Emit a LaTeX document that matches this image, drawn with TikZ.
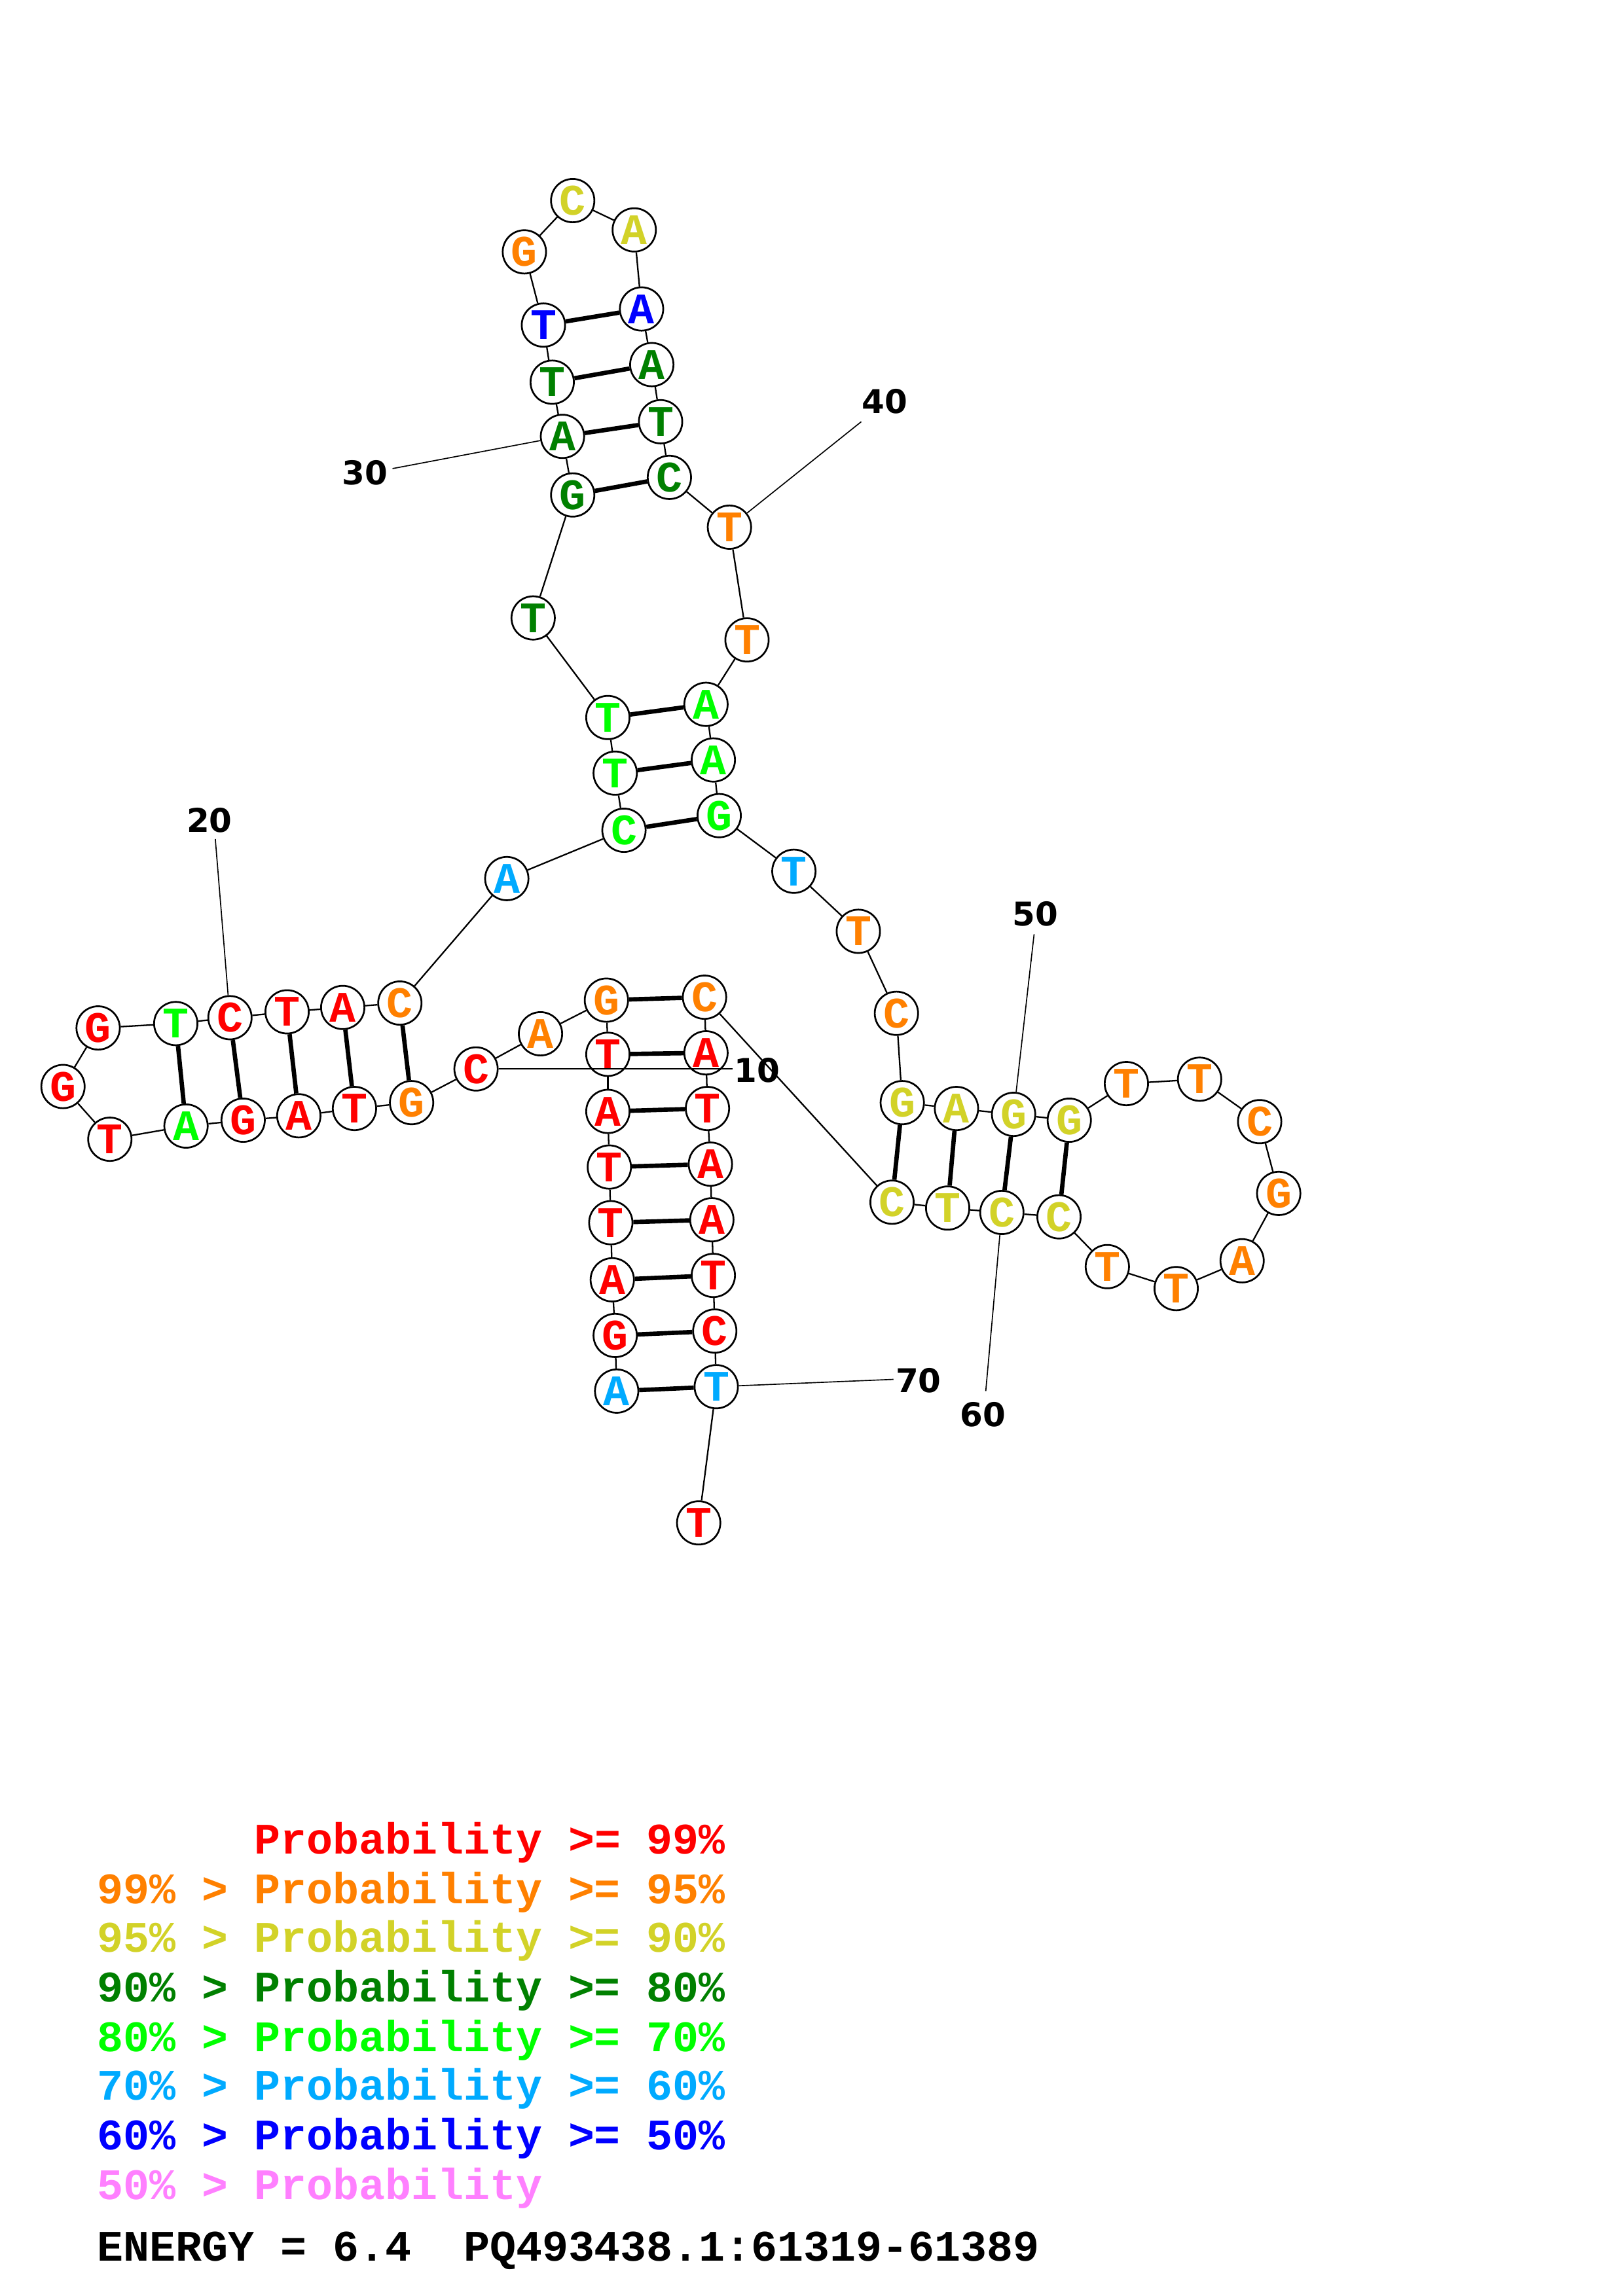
\documentclass[tikz,border=0pt]{standalone}
\usepackage{fontspec}
\newfontfamily\ntfont{Liberation Mono}
\newfontfamily\numfont{DejaVu Sans}
\definecolor{pred}{RGB}{255,0,0}
\definecolor{porange}{RGB}{255,128,0}
\definecolor{pyellow}{RGB}{210,210,40}
\definecolor{pdkgreen}{RGB}{0,128,0}
\definecolor{pgreen}{RGB}{0,255,0}
\definecolor{pltblue}{RGB}{0,170,255}
\definecolor{pblue}{RGB}{0,0,255}
\definecolor{ppink}{RGB}{255,128,255}
\tikzset{
  nt/.style={circle, draw=black, line width=0.65pt, fill=white, inner sep=0pt,
    minimum size=15.9pt, font=\ntfont\bfseries\fontsize{16}{16}\selectfont},
  backbone/.style={line width=0.55pt},
  pairline/.style={line width=1.6pt},
  numline/.style={line width=0.4pt},
  numlabel/.style={font=\numfont\bfseries\fontsize{12}{12}\selectfont},
  legend/.style={anchor=base west, inner sep=0pt, font=\ntfont\bfseries\fontsize{16}{16}\selectfont}
}
\begin{document}
\begin{tikzpicture}[x=0.5373pt, y=-0.5373pt]
		\useasboundingbox (0,0) rectangle (1108,1568);
		\fill [white] (0,0) rectangle (1108,1568);
		% nucleotides
		\foreach \n/\x/\y/\b/\c in {
			1/421/950/A/pltblue, 2/420/912/G/pred, 3/418/874/A/pred, 4/417/835/T/pred,
			5/416/797/T/pred, 6/415/759/A/pred, 7/415/720/T/pred, 8/414/683/G/porange,
			9/369/706/A/porange, 10/325/730/C/pred, 11/281/753/G/porange, 12/242/757/T/pred,
			13/204/762/A/pred, 14/166/765/G/pred, 15/127/769/A/pgreen, 16/75/778/T/pred,
			17/43/742/G/pred, 18/67/702/G/pred, 19/120/699/T/pgreen, 20/157/695/C/pred,
			21/196/691/T/pred, 22/234/688/A/pred, 23/273/685/C/porange, 24/346/600/A/pltblue,
			25/426/567/C/pgreen, 26/420/528/T/pgreen, 27/415/490/T/pgreen, 28/364/422/T/pdkgreen,
			29/391/338/G/pdkgreen, 30/384/298/A/pdkgreen, 31/377/261/T/pdkgreen, 32/371/222/T/pblue,
			33/358/172/G/porange, 34/391/137/C/pyellow, 35/433/157/A/pyellow, 36/438/211/A/pblue,
			37/445/249/A/pdkgreen, 38/451/288/T/pdkgreen, 39/457/326/C/pdkgreen, 40/498/360/T/porange,
			41/510/437/T/porange, 42/482/481/A/pgreen, 43/487/519/A/pgreen, 44/491/557/G/pgreen,
			45/542/595/T/pltblue, 46/586/636/T/porange, 47/612/692/C/porange, 48/616/753/G/pyellow,
			49/653/757/A/pyellow, 50/692/761/G/pyellow, 51/730/765/G/pyellow, 52/769/740/T/porange,
			53/819/737/T/porange, 54/860/766/C/porange, 55/873/815/G/porange, 56/848/861/A/porange,
			57/803/880/T/porange, 58/756/865/T/porange, 59/723/831/C/pyellow, 60/684/828/C/pyellow,
			61/647/825/T/pyellow, 62/609/821/C/pyellow, 63/481/681/C/porange, 64/482/719/A/pred,
			65/483/757/T/pred, 66/485/795/A/pred, 67/486/833/A/pred, 68/487/871/T/pred,
			69/488/909/C/pred, 70/489/947/T/pltblue, 71/477/1040/T/pred}
			\node [nt, text=\c] (n\n) at (\x,\y) {\b};
		% backbone
		\foreach \i [evaluate=\i as \j using int(\i+1)] in {1,...,70}
			\draw [backbone] (n\i) -- (n\j);
		% base pairs
		\foreach \a/\b in {1/70, 2/69, 3/68, 4/67, 5/66, 6/65, 7/64, 8/63,
			11/23, 12/22, 13/21, 14/20, 15/19, 25/44, 26/43, 27/42,
			29/39, 30/38, 31/37, 32/36, 48/62, 49/61, 50/60, 51/59}
			\draw [pairline] (n\a) -- (n\b);
		% numbering
		\foreach \n/\lx/\ly/\ex/\ey/\t in {10/517/731/500/730/10, 20/143/560/147/573/20,
			30/249/323/268/320/30, 40/604/274/588/288/40, 50/707/624/706/638/50,
			60/671/966/673/950/60, 70/627/943/610/942/70} {
			\coordinate (e\n) at (\ex,\ey);
			\draw [numline] (n\n) -- (e\n);
			\node [numlabel] (l\n) at (\lx,\ly) {\t};
		}
		% legend
		\node [legend, text=pred] (lg1) at (66,1266) {\hphantom{99\% > }Probability >= 99\%};
		\node [legend, text=porange] (lg2) at (66,1300) {99\% > Probability >= 95\%};
		\node [legend, text=pyellow] (lg3) at (66,1333) {95\% > Probability >= 90\%};
		\node [legend, text=pdkgreen] (lg4) at (66,1367) {90\% > Probability >= 80\%};
		\node [legend, text=pgreen] (lg5) at (66,1401) {80\% > Probability >= 70\%};
		\node [legend, text=pltblue] (lg6) at (66,1434) {70\% > Probability >= 60\%};
		\node [legend, text=pblue] (lg7) at (66,1468) {60\% > Probability >= 50\%};
		\node [legend, text=ppink] (lg8) at (66,1502) {50\% > Probability};
		\node [legend, text=black] (energy) at (66,1544) {ENERGY = 6.4\ \ PQ493438.1:61319-61389};
		\end{tikzpicture}
\end{document}
